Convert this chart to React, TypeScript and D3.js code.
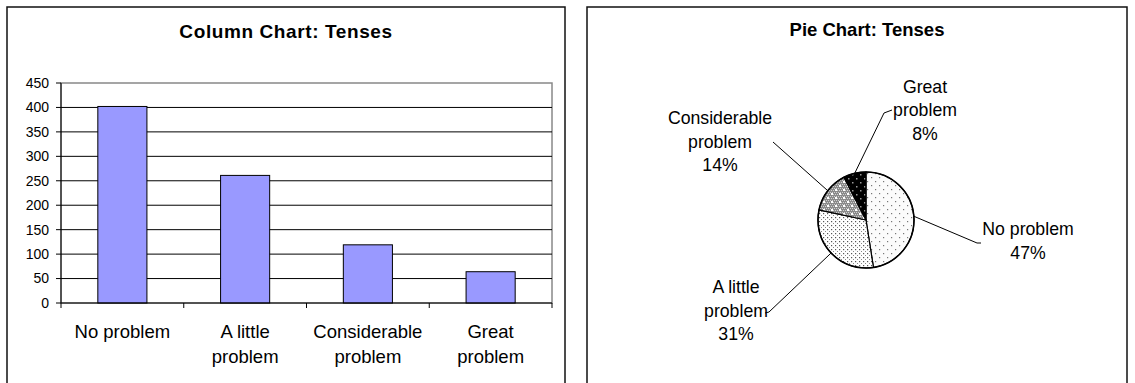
import { useEffect } from 'react';
import * as d3 from 'd3';

const categories = ['No problem', 'A little problem', 'Considerable problem', 'Great problem'];
const categoryLines = [['No problem'], ['A little', 'problem'], ['Considerable', 'problem'], ['Great', 'problem']];
const counts = [402, 261, 119, 64];
const yTicks = [0, 50, 100, 150, 200, 250, 300, 350, 400, 450];
const pieLabels = [['No problem', '47%'], ['A little', 'problem', '31%'], ['Considerable', 'problem', '14%'], ['Great', 'problem', '8%']];
const patternIds = ['pNo', 'pLittle', 'pConsid', 'pGreat'];

const FONT = "Arial, 'Liberation Sans', sans-serif";

// label placement for the pie (layout, not data)
const labelPos = [
  { x: 1028, y: 235, bend: [977, 243], end: [981, 243] },
  { x: 736, y: 293, bend: [769, 312], end: [765, 313] },
  { x: 720, y: 124, bend: [773, 142], end: [773, 142] },
  { x: 925, y: 92.5, bend: [884, 113], end: [892, 110] },
];

function ColumnChart() {
  const left = 61, right = 552, top = 83, bottom = 303;
  const x = d3.scaleBand<string>().domain(categories).range([left, right]).paddingInner(0.6).paddingOuter(0.3);
  const y = d3.scaleLinear().domain([0, 450]).range([bottom, top]);
  const step = x.step();

  return (
    <g>
      <rect x={7} y={7} width={558} height={420} fill="#fff" stroke="#111" strokeWidth={1.5} />
      <text x={286} y={38} textAnchor="middle" fontFamily={FONT} fontWeight="bold" fontSize={19} letterSpacing={0.6}>
        Column Chart: Tenses
      </text>
      {/* plot area frame */}
      <rect x={left} y={top} width={right - left} height={bottom - top} fill="none" stroke="#888" strokeWidth={1.5} />
      {yTicks.filter(t => t > 0 && t < 450).map(t => (
        <line key={t} x1={left} x2={right} y1={y(t)} y2={y(t)} stroke="#000" strokeWidth={1} />
      ))}
      {counts.map((v, i) => (
        <rect key={i} x={x(categories[i])} y={y(v)} width={x.bandwidth()} height={y(0) - y(v)}
          fill="#9999FF" stroke="#000" strokeWidth={1} />
      ))}
      {/* axes */}
      <line x1={left} x2={left} y1={top} y2={bottom} stroke="#000" strokeWidth={1} />
      <line x1={left} x2={right} y1={bottom} y2={bottom} stroke="#000" strokeWidth={1.2} />
      {yTicks.map(t => (
        <g key={t}>
          <line x1={left - 5} x2={left} y1={y(t)} y2={y(t)} stroke="#000" />
          <text x={49} y={y(t)} dy="0.35em" textAnchor="end" fontFamily={FONT} fontSize={14}>{t}</text>
        </g>
      ))}
      {d3.range(categories.length + 1).map(i => (
        <line key={i} x1={left + i * step} x2={left + i * step} y1={bottom} y2={bottom + 5} stroke="#000" />
      ))}
      {categoryLines.map((lines, i) => (
        <text key={i} x={(x(categories[i]) as number) + x.bandwidth() / 2} y={338} textAnchor="middle"
          fontFamily={FONT} fontSize={18.5}>
          {lines.map((l, j) => (
            <tspan key={j} x={(x(categories[i]) as number) + x.bandwidth() / 2} dy={j === 0 ? 0 : 25}>{l}</tspan>
          ))}
        </text>
      ))}
    </g>
  );
}

function PieChart() {
  const cx = 866, cy = 220, r = 48;
  const pie = d3.pie<number>().sort(null).value(d => d);
  const arcs = pie(counts);
  const arc = d3.arc<d3.PieArcDatum<number>>().innerRadius(0).outerRadius(r);

  return (
    <g>
      <defs>
        <pattern id="pNo" width={8} height={8} patternUnits="userSpaceOnUse">
          <rect width={8} height={8} fill="#fbfbfb" />
          <rect x={1} y={1} width={1.2} height={1.2} fill="#777" />
          <rect x={5} y={5} width={1.2} height={1.2} fill="#777" />
        </pattern>
        <pattern id="pLittle" width={4} height={4} patternUnits="userSpaceOnUse">
          <rect width={4} height={4} fill="#fff" />
          <rect x={1} y={1} width={1.2} height={1.2} fill="#555" />
          <rect x={3} y={3} width={1} height={1} fill="#888" />
        </pattern>
        <pattern id="pConsid" width={8} height={8} patternUnits="userSpaceOnUse">
          <rect width={8} height={8} fill="#8a8a8a" />
          {d3.range(0, 8, 2).map(i => d3.range(0, 8, 2).map(j => (
            <rect key={`${i}-${j}`} x={i + ((j / 2) % 2)} y={j} width={1} height={1} fill="#d0d0d0" />
          )))}
          <rect x={1} y={1} width={2} height={2} fill="#fff" />
          <rect x={5} y={5} width={2} height={2} fill="#fff" />
        </pattern>
        <pattern id="pGreat" width={8} height={8} patternUnits="userSpaceOnUse">
          <rect width={8} height={8} fill="#000" />
          <rect x={2} y={2} width={1.5} height={1.5} fill="#999" />
          <rect x={6} y={6} width={1.5} height={1.5} fill="#999" />
        </pattern>
      </defs>
      <rect x={587} y={7} width={540} height={420} fill="#fff" stroke="#111" strokeWidth={1.5} />
      <text x={867} y={36} textAnchor="middle" fontFamily={FONT} fontWeight="bold" fontSize={18.5}>
        Pie Chart: Tenses
      </text>
      <g transform={`translate(${cx},${cy})`}>
        {arcs.map((a, i) => (
          <path key={i} d={arc(a) || ''} fill={`url(#${patternIds[i]})`} stroke="#000" strokeWidth={1.2} />
        ))}
        <circle r={r} fill="none" stroke="#000" strokeWidth={1.5} />
      </g>
      {arcs.map((a, i) => {
        const mid = (a.startAngle + a.endAngle) / 2;
        const sx = cx + Math.sin(mid) * r;
        const sy = cy - Math.cos(mid) * r;
        const p = labelPos[i];
        return (
          <g key={i}>
            <polyline points={`${sx},${sy} ${p.bend[0]},${p.bend[1]} ${p.end[0]},${p.end[1]}`}
              fill="none" stroke="#000" strokeWidth={1} />
            <text x={p.x} y={p.y} textAnchor="middle" fontFamily={FONT} fontSize={17.7}>
              {pieLabels[i].map((l, j) => (
                <tspan key={j} x={p.x} dy={j === 0 ? 0 : 23.5}>{l}</tspan>
              ))}
            </text>
          </g>
        );
      })}
    </g>
  );
}

export default function App() {
  useEffect(() => {
    document.body.style.margin = '0';
  }, []);
  return (
    <svg width={1135} height={383} style={{ display: 'block', background: '#fff' }}>
      <ColumnChart />
      <PieChart />
    </svg>
  );
}
